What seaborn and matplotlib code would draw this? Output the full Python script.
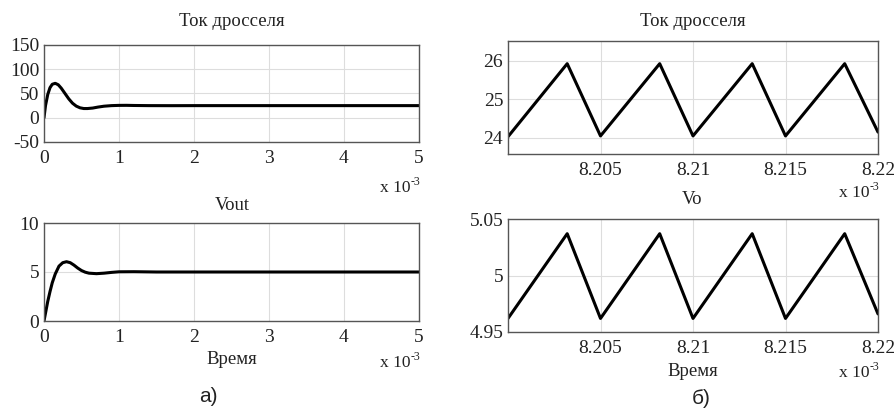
import matplotlib
matplotlib.use("Agg")
import matplotlib.pyplot as plt
import seaborn as sns

# transient, time in ms (axis shows x 10^-3 s)
t_tr_i = [0, 0.02, 0.05, 0.08, 0.11, 0.15, 0.19, 0.23, 0.28, 0.33, 0.38, 0.43,
          0.48, 0.53, 0.58, 0.65, 0.72, 0.8, 0.9, 1.0, 1.1, 1.2, 1.4, 1.7, 2.0,
          3.0, 4.0, 5.0]
i_tr = [0, 25, 48, 62, 69, 71, 68, 61, 50, 39, 30, 24, 20.5, 19, 19, 20, 22,
        23.8, 25, 25.5, 25.6, 25.3, 25, 24.9, 25, 25, 25, 25]

t_tr_v = [0, 0.02, 0.05, 0.08, 0.11, 0.15, 0.2, 0.25, 0.3, 0.35, 0.4, 0.45,
          0.5, 0.55, 0.6, 0.7, 0.8, 0.9, 1.0, 1.2, 1.5, 2.0, 3.0, 4.0, 5.0]
v_tr = [0, 0.8, 2.0, 3.0, 3.9, 4.8, 5.6, 5.95, 6.05, 5.95, 5.7, 5.4, 5.15,
        4.98, 4.88, 4.83, 4.88, 4.96, 5.02, 5.03, 5.0, 5.0, 5.0, 5.0, 5.0]

# steady-state ripple, time in ms
t_ss = [8.2000, 8.2032, 8.2050, 8.2082, 8.2100, 8.2132, 8.2150, 8.2182, 8.2200]
i_ss = [24.03, 25.93, 24.05, 25.93, 24.05, 25.93, 24.05, 25.93, 24.15]
v_ss = [4.962, 5.037, 4.962, 5.037, 4.962, 5.037, 4.962, 5.037, 4.966]

title_i = "Ток дросселя"
xlabel = "Время"

sns.set_theme(style="whitegrid")
plt.rcParams["font.family"] = ["Liberation Serif", "DejaVu Serif"]
plt.rcParams["axes.unicode_minus"] = False
plt.rcParams["axes.edgecolor"] = "#555555"
plt.rcParams["grid.color"] = "#dddddd"
plt.rcParams["grid.linewidth"] = 0.8

W, H = 895, 409
fig = plt.figure(figsize=(W / 100, H / 100), dpi=100)
fig.patch.set_facecolor("white")


def box(x0, y0, x1, y1):
    return [x0 / W, 1 - y1 / H, (x1 - x0) / W, (y1 - y0) / H]


def ftext(x, y, s, **kw):
    kw.setdefault("ha", "center")
    fig.text(x / W, 1 - y / H, s, va="center", color="#222222", **kw)


def scale_note(x_right, y):
    # MATLAB style "x 10^-3" under the right end of the x axis
    ftext(x_right - 8, y, "x 10", fontsize=12.5, ha="right")
    ftext(x_right - 8, y - 6, "-3", fontsize=8.5, ha="left")


ax1 = fig.add_axes(box(44, 45, 419, 142))
ax2 = fig.add_axes(box(44, 223, 419, 321))
ax3 = fig.add_axes(box(508, 41, 878, 154))
ax4 = fig.add_axes(box(508, 219, 878, 332))

sns.lineplot(x=t_tr_i, y=i_tr, ax=ax1, color="black", linewidth=2.2)
sns.lineplot(x=t_tr_v, y=v_tr, ax=ax2, color="black", linewidth=2.2)
sns.lineplot(x=t_ss, y=i_ss, ax=ax3, color="black", linewidth=2.2)
sns.lineplot(x=t_ss, y=v_ss, ax=ax4, color="black", linewidth=2.2)

for ax in (ax1, ax2):
    ax.set_xlim(0, 5)
    ax.set_xticks([0, 1, 2, 3, 4, 5])
ax1.set_ylim(-50, 150)
ax1.set_yticks([-50, 0, 50, 100, 150])
ax2.set_ylim(0, 10)
ax2.set_yticks([0, 5, 10])

for ax in (ax3, ax4):
    ax.set_xlim(8.2, 8.22)
    ax.set_xticks([8.205, 8.21, 8.215, 8.22])
    ax.set_xticklabels(["8.205", "8.21", "8.215", "8.22"])
ax3.set_ylim(23.58, 26.52)
ax3.set_yticks([24, 25, 26])
ax4.set_ylim(4.95, 5.05)
ax4.set_yticks([4.95, 5.0, 5.05])
ax4.set_yticklabels(["4.95", "5", "5.05"])

for ax in (ax1, ax2, ax3, ax4):
    ax.tick_params(axis="both", labelsize=14, colors="#222222",
                   direction="in", length=3, width=0.8)
    ax.tick_params(axis="both", color="#777777")
    ax.tick_params(axis="x", pad=6)
    ax.tick_params(axis="y", pad=3.5)
    for s in ax.spines.values():
        s.set_linewidth(1.0)
    ax.set_xlabel("")
    ax.set_ylabel("")

ftext(232, 22, title_i, fontsize=13.5)
ftext(232, 205, "Vout", fontsize=13.5)
ftext(693, 22, title_i, fontsize=13.5)
ftext(692, 200, "Vo", fontsize=13.5)

ftext(232, 360, xlabel, fontsize=13.5)
ftext(693, 371, xlabel, fontsize=13.5)

scale_note(419, 188)
scale_note(419, 363)
scale_note(878, 193)
scale_note(878, 373)

fig.text(208 / W, 1 - 397 / H, "а)", ha="center", va="center", fontsize=15,
         family=["Liberation Sans", "DejaVu Sans"], color="#222222")
fig.text(701 / W, 1 - 398 / H, "б)", ha="center", va="center", fontsize=15,
         family=["Liberation Sans", "DejaVu Sans"], color="#222222")

fig.savefig("out.png", dpi=100, facecolor="white")
